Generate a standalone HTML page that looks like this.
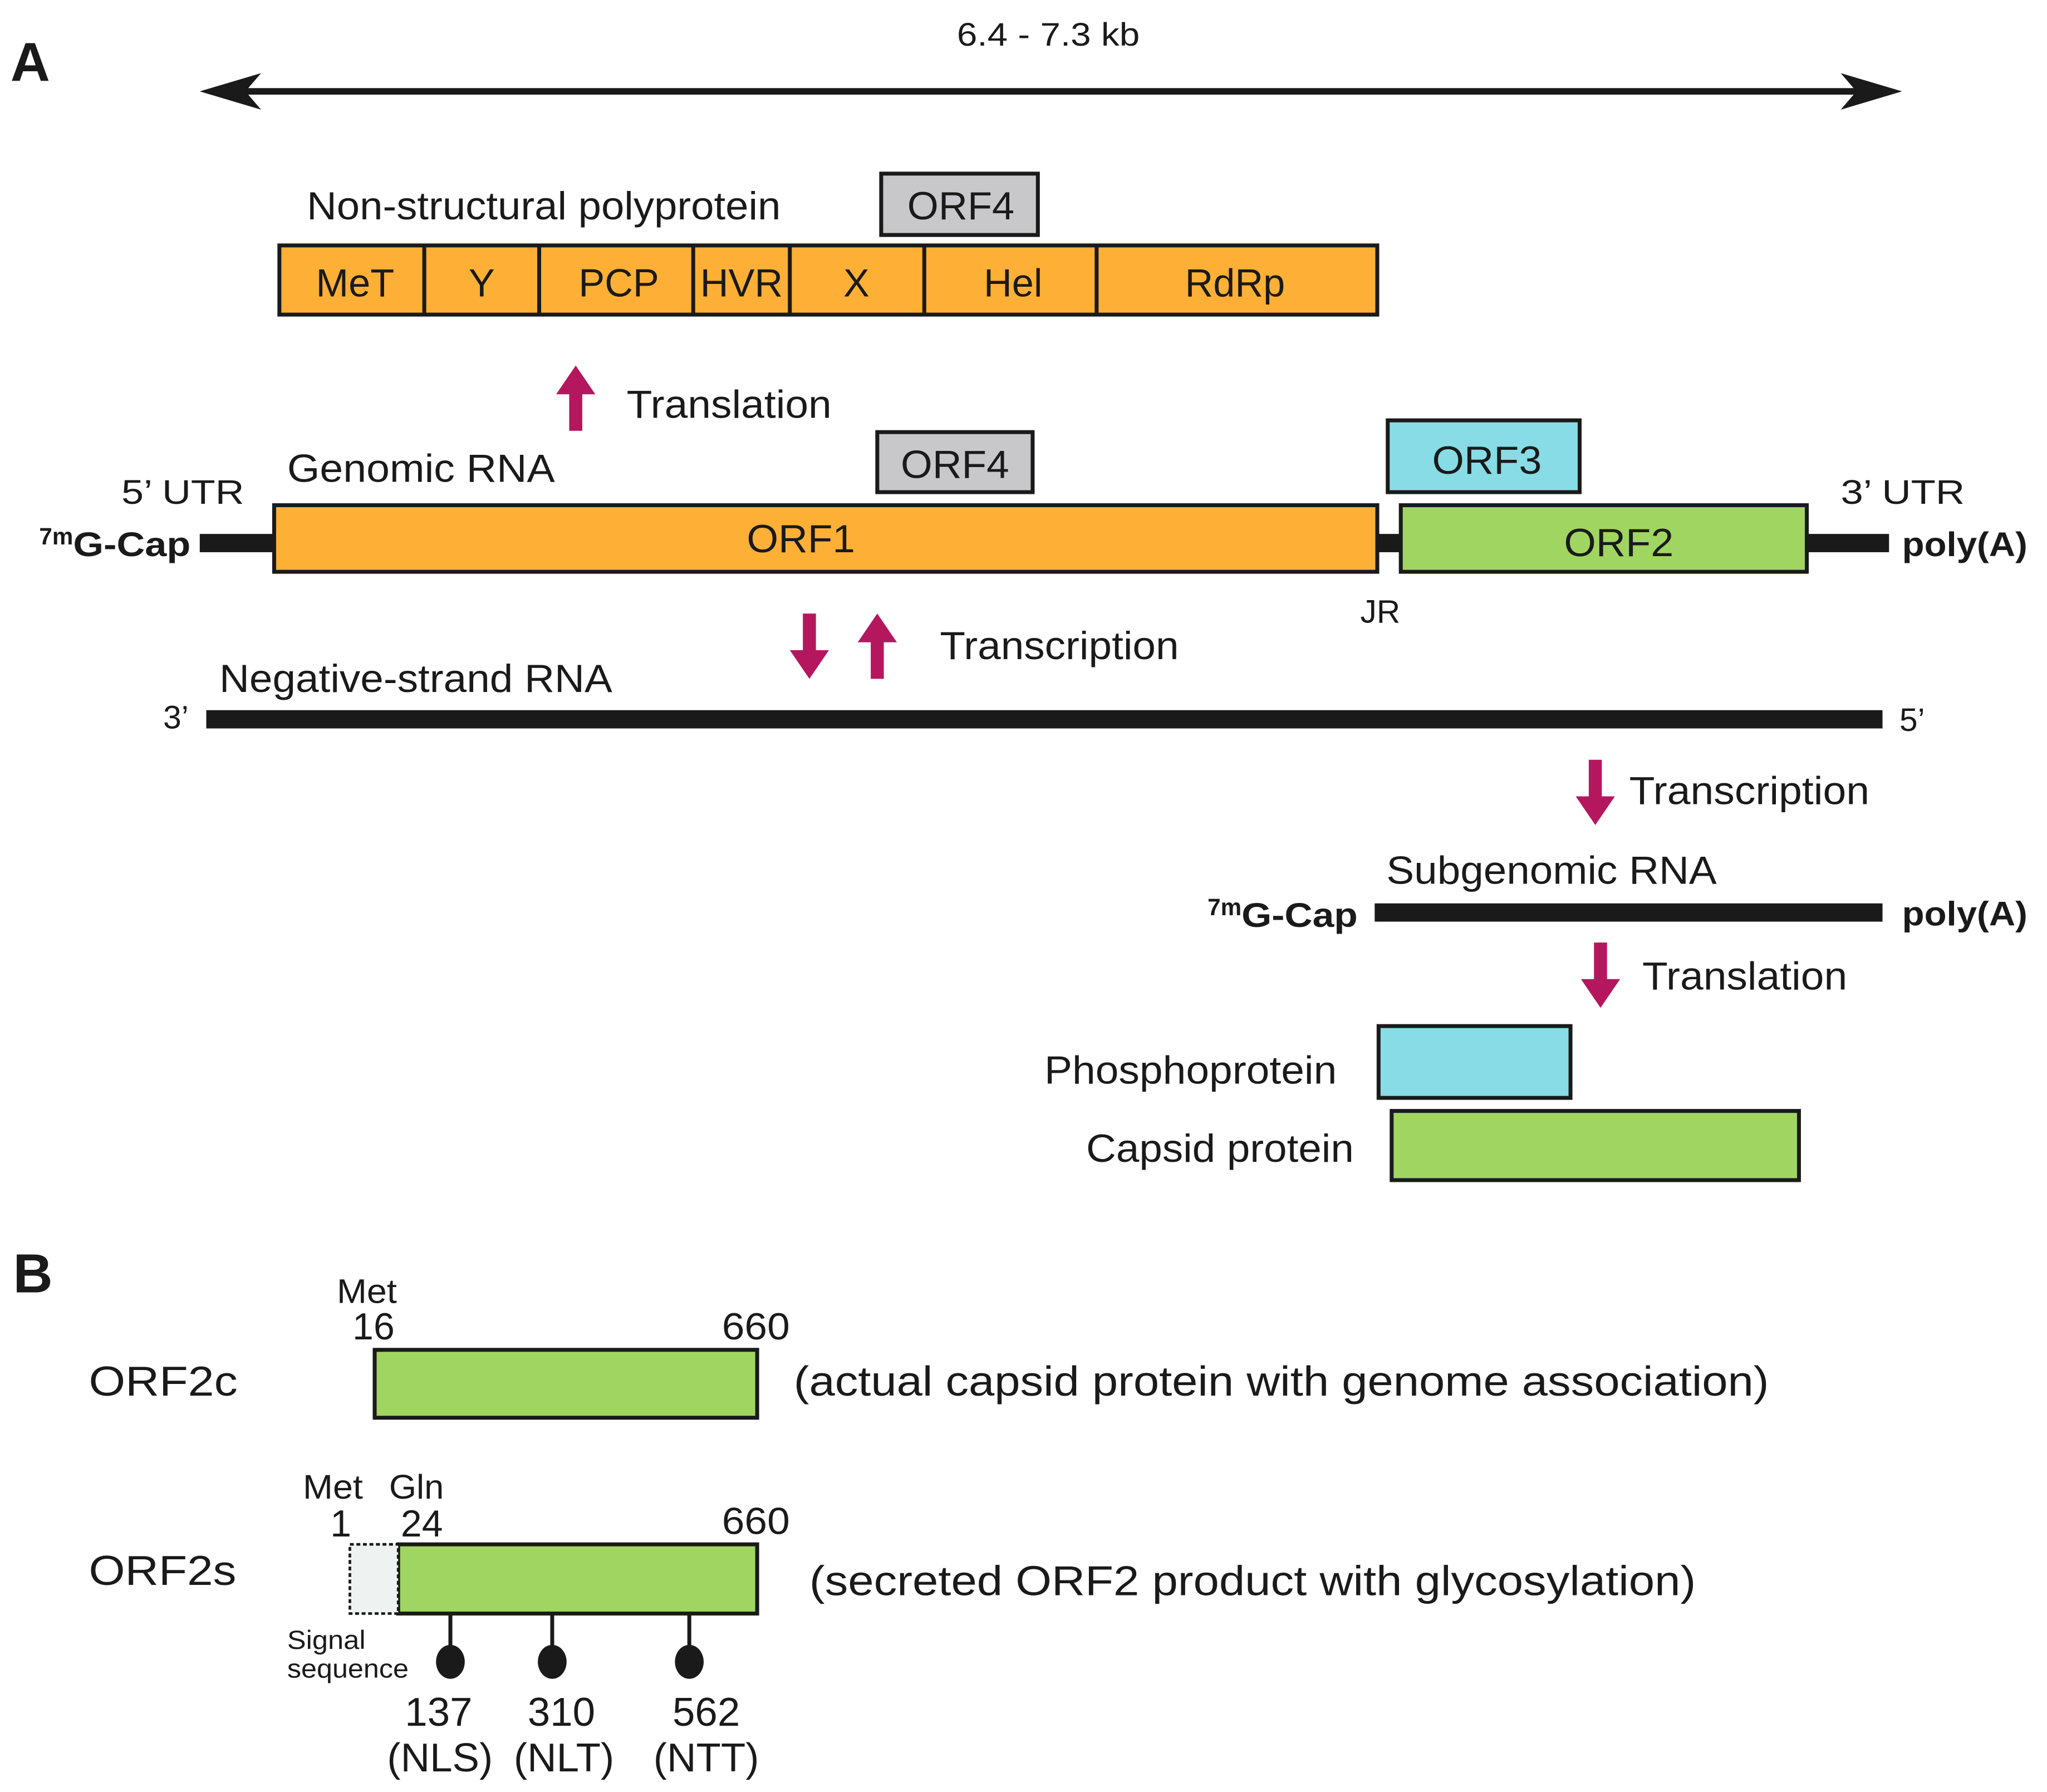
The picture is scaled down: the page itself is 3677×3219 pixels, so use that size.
<!DOCTYPE html>
<html><head><meta charset="utf-8"><style>
html,body{margin:0;padding:0;background:#fff;}
svg{display:block;}
text{font-family:"Liberation Sans",Arial,sans-serif;fill:#1a1a1a;}
</style></head><body>
<svg width="3677" height="3219" viewBox="0 0 1568 1372.7" xmlns="http://www.w3.org/2000/svg">
<defs>
<g id="up"><rect x="-5" y="20" width="10" height="30" fill="#B5175F"/><polygon points="-15,22 0,0 15,22" fill="#B5175F"/></g>
<g id="down"><rect x="-5" y="0" width="10" height="30" fill="#B5175F"/><polygon points="-15,28 0,50 15,28" fill="#B5175F"/></g>
</defs>
<text x="8" y="62" font-size="42" font-weight="bold">A</text>
<text x="733" y="35" font-size="25" textLength="140" lengthAdjust="spacingAndGlyphs">6.4 - 7.3 kb</text>
<line x1="185" y1="70" x2="1425" y2="70" stroke="#1a1a1a" stroke-width="5"/>
<polygon points="153,70 200,56 188,70 200,84" fill="#1a1a1a"/>
<polygon points="1457,70 1410,56 1422,70 1410,84" fill="#1a1a1a"/>

<text x="235" y="168" font-size="30" textLength="363" lengthAdjust="spacingAndGlyphs">Non-structural polyprotein</text>
<rect x="675" y="133" width="120" height="47" fill="#C8C8CA" stroke="#1a1a1a" stroke-width="3"/>
<text x="695" y="168" font-size="30" textLength="82" lengthAdjust="spacingAndGlyphs">ORF4</text>
<rect x="214" y="188" width="841" height="53" fill="#FDB035" stroke="#1a1a1a" stroke-width="3"/>
<g stroke="#1a1a1a" stroke-width="3">
<line x1="325" y1="188" x2="325" y2="241"/><line x1="413" y1="188" x2="413" y2="241"/><line x1="531" y1="188" x2="531" y2="241"/><line x1="605" y1="188" x2="605" y2="241"/><line x1="708" y1="188" x2="708" y2="241"/><line x1="840" y1="188" x2="840" y2="241"/>
</g>
<g font-size="30" text-anchor="middle">
<text x="272" y="227">MeT</text><text x="369" y="227">Y</text><text x="474" y="227">PCP</text><text x="568" y="227">HVR</text><text x="656" y="227">X</text><text x="776" y="227">Hel</text><text x="946" y="227">RdRp</text>
</g>

<use href="#up" x="441" y="280"/>
<text x="480" y="320" font-size="30" textLength="157" lengthAdjust="spacingAndGlyphs">Translation</text>

<text x="220" y="369" font-size="30" textLength="205" lengthAdjust="spacingAndGlyphs">Genomic RNA</text>
<rect x="672" y="331" width="119" height="46" fill="#C8C8CA" stroke="#1a1a1a" stroke-width="3"/>
<text x="690" y="366" font-size="30" textLength="83" lengthAdjust="spacingAndGlyphs">ORF4</text>
<rect x="1063" y="322" width="147" height="55" fill="#87DCE5" stroke="#1a1a1a" stroke-width="3"/>
<text x="1097" y="363" font-size="30" textLength="84" lengthAdjust="spacingAndGlyphs">ORF3</text>
<text x="93" y="386" font-size="26" textLength="94" lengthAdjust="spacingAndGlyphs">5’  UTR</text>
<text x="1410" y="386" font-size="26" textLength="95" lengthAdjust="spacingAndGlyphs">3’  UTR</text>
<text x="30" y="426" font-size="26" font-weight="bold"><tspan font-size="18" dy="-9" textLength="26" lengthAdjust="spacingAndGlyphs">7m</tspan><tspan dy="9" textLength="90" lengthAdjust="spacingAndGlyphs">G-Cap</tspan></text>
<rect x="153" y="409" width="1294" height="14" fill="#1a1a1a"/>
<rect x="210" y="387" width="845" height="51" fill="#FDB035" stroke="#1a1a1a" stroke-width="3"/>
<text x="572" y="423" font-size="30" textLength="83" lengthAdjust="spacingAndGlyphs">ORF1</text>
<rect x="1073" y="387" width="311" height="51" fill="#A0D562" stroke="#1a1a1a" stroke-width="3"/>
<text x="1198" y="426" font-size="30" textLength="84" lengthAdjust="spacingAndGlyphs">ORF2</text>
<text x="1457" y="426" font-size="26" font-weight="bold" textLength="96" lengthAdjust="spacingAndGlyphs">poly(A)</text>
<text x="1042" y="477" font-size="25">JR</text>

<use href="#down" x="620" y="470"/>
<use href="#up" x="672" y="470"/>
<text x="720" y="505" font-size="30" textLength="183" lengthAdjust="spacingAndGlyphs">Transcription</text>
<text x="168" y="530" font-size="30" textLength="301" lengthAdjust="spacingAndGlyphs">Negative-strand RNA</text>
<text x="125" y="558" font-size="25">3’</text>
<rect x="158" y="544" width="1284" height="14" fill="#1a1a1a"/>
<text x="1455" y="560" font-size="25">5’</text>

<use href="#down" x="1222" y="582"/>
<text x="1248" y="616" font-size="30" textLength="184" lengthAdjust="spacingAndGlyphs">Transcription</text>
<text x="1062" y="677" font-size="30" textLength="253" lengthAdjust="spacingAndGlyphs">Subgenomic RNA</text>
<text x="925" y="710" font-size="26" font-weight="bold"><tspan font-size="18" dy="-9" textLength="26" lengthAdjust="spacingAndGlyphs">7m</tspan><tspan dy="9" textLength="89" lengthAdjust="spacingAndGlyphs">G-Cap</tspan></text>
<rect x="1053" y="692" width="389" height="14" fill="#1a1a1a"/>
<text x="1457" y="709" font-size="26" font-weight="bold" textLength="96" lengthAdjust="spacingAndGlyphs">poly(A)</text>
<use href="#down" x="1226" y="722"/>
<text x="1258" y="758" font-size="30" textLength="157" lengthAdjust="spacingAndGlyphs">Translation</text>
<text x="800" y="830" font-size="30" textLength="224" lengthAdjust="spacingAndGlyphs">Phosphoprotein</text>
<rect x="1056" y="786" width="147" height="55" fill="#87DCE5" stroke="#1a1a1a" stroke-width="3"/>
<text x="832" y="890" font-size="30" textLength="205" lengthAdjust="spacingAndGlyphs">Capsid protein</text>
<rect x="1066" y="851" width="312" height="53" fill="#A0D562" stroke="#1a1a1a" stroke-width="3"/>

<text x="10" y="990" font-size="42" font-weight="bold">B</text>
<text x="258" y="998" font-size="26" textLength="46" lengthAdjust="spacingAndGlyphs">Met</text>
<text x="270" y="1026" font-size="29">16</text>
<text x="553" y="1026" font-size="29" textLength="52" lengthAdjust="spacingAndGlyphs">660</text>
<text x="68" y="1069" font-size="32" textLength="114" lengthAdjust="spacingAndGlyphs">ORF2c</text>
<rect x="287" y="1034" width="293" height="52" fill="#A0D562" stroke="#1a1a1a" stroke-width="3"/>
<text x="608" y="1069" font-size="32" textLength="747" lengthAdjust="spacingAndGlyphs">(actual capsid protein with genome association)</text>

<text x="232" y="1148" font-size="26" textLength="46" lengthAdjust="spacingAndGlyphs">Met</text>
<text x="298" y="1148" font-size="26" textLength="42" lengthAdjust="spacingAndGlyphs">Gln</text>
<text x="253" y="1177" font-size="29">1</text>
<text x="307" y="1177" font-size="29">24</text>
<text x="553" y="1175" font-size="29" textLength="52" lengthAdjust="spacingAndGlyphs">660</text>
<text x="68" y="1214" font-size="32" textLength="113" lengthAdjust="spacingAndGlyphs">ORF2s</text>
<rect x="305" y="1183" width="275" height="53" fill="#A0D562" stroke="#1a1a1a" stroke-width="3"/>
<rect x="268" y="1183" width="37" height="53" fill="#EEF2F0" stroke="#1a1a1a" stroke-width="2" stroke-dasharray="3,2"/>
<text x="620" y="1222" font-size="32" textLength="679" lengthAdjust="spacingAndGlyphs">(secreted ORF2 product with glycosylation)</text>
<text x="220" y="1263" font-size="20" textLength="60" lengthAdjust="spacingAndGlyphs">Signal</text>
<text x="220" y="1285" font-size="20" textLength="93" lengthAdjust="spacingAndGlyphs">sequence</text>
<g stroke="#1a1a1a" stroke-width="3">
<line x1="345" y1="1236" x2="345" y2="1262"/><line x1="423" y1="1236" x2="423" y2="1262"/><line x1="528" y1="1236" x2="528" y2="1262"/>
</g>
<g fill="#1a1a1a">
<ellipse cx="345" cy="1273" rx="11" ry="13"/><ellipse cx="423" cy="1273" rx="11" ry="13"/><ellipse cx="528" cy="1273" rx="11" ry="13"/>
</g>
<g font-size="31" text-anchor="middle">
<text x="336" y="1322">137</text><text x="337" y="1357">(NLS)</text>
<text x="430" y="1322">310</text><text x="432" y="1357">(NLT)</text>
<text x="541" y="1322">562</text><text x="541" y="1357">(NTT)</text>
</g>
</svg>
</body></html>
